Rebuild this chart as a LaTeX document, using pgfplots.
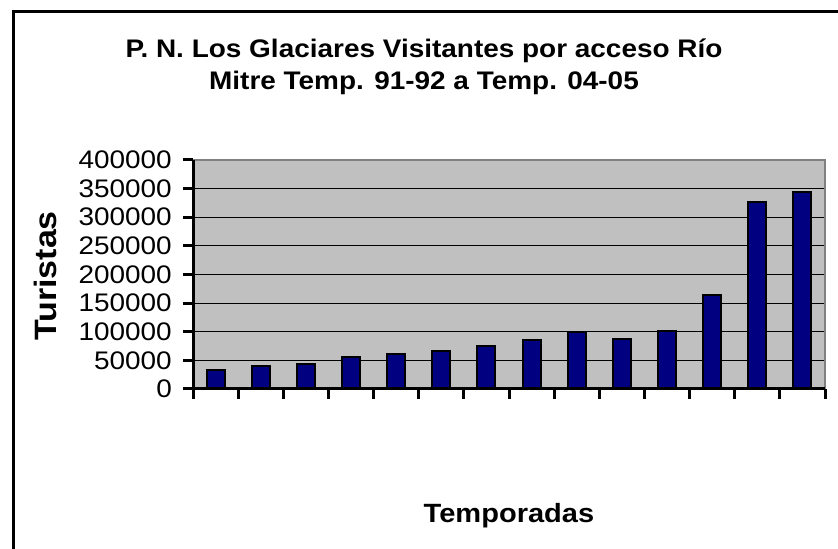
\documentclass[border=0pt]{standalone}
\usepackage{fontspec}
\setmainfont{Liberation Sans}[FakeStretch=1.1]
\usepackage{pgfplots}
\pgfplotsset{compat=1.18}
\definecolor{plotgray}{RGB}{192,192,192}
\definecolor{navybar}{RGB}{0,0,128}
\begin{document}
\begin{tikzpicture}[x=1bp,y=1bp]
\begin{axis}[
  at={(193bp,160bp)}, anchor=south west,
  scale only axis, width=632bp, height=229bp,
  xmin=-0.5, xmax=13.5, ymin=0, ymax=400000,
  axis background/.style={fill=plotgray},
  axis line style={draw=gray, line width=1.2bp},
  xtick={-0.5,0.5,...,13.5}, xticklabels={},
  ytick={0,50000,...,400000},
  tick pos=left, tick align=outside,
  major tick length=0pt,
  ymajorgrids, grid style={black, line width=1bp},
  scaled y ticks=false,
  yticklabel style={/pgf/number format/fixed, /pgf/number format/1000 sep={}, font=\fontsize{25.5}{26}\selectfont, inner sep=0pt, xshift=-21bp},
  /pgf/number format/assume math mode=true,
  clip=false,
]
\addplot[ybar, bar width=18bp, fill=navybar, draw=black, line width=2bp]
  coordinates {(0,33700) (1,39400) (2,43600) (3,56300) (4,61000) (5,65600) (6,75200) (7,84800) (8,99400) (9,87700) (10,101700) (11,165000) (12,327300) (13,344200)};
\draw[black, line width=3bp] (rel axis cs:0,0) -- (rel axis cs:1,0);
\draw[black, line width=3bp] (rel axis cs:0,0) -- (rel axis cs:0,1);
\pgfplotsinvokeforeach{-0.5,0.5,1.5,2.5,3.5,4.5,5.5,6.5,7.5,8.5,9.5,10.5,11.5,12.5,13.5}{
  \draw[black, line width=3bp] (axis cs:#1,0) -- ++(0bp,-10bp);
}
\pgfplotsinvokeforeach{0,50000,100000,150000,200000,250000,300000,350000,400000}{
  \draw[black, line width=3bp] (axis cs:-0.5,#1) -- ++(-10bp,0bp);
}
\end{axis}
\node[font=\bfseries\fontsize{25.5}{31.6}\selectfont, align=center, anchor=base] at (424bp,459.7bp) {P. N. Los Glaciares Visitantes por acceso Río\\Mitre Temp. 91-92 a Temp. 04-05};
\node[font=\bfseries\fontsize{31}{32}\selectfont, rotate=90] at (45bp,273bp) {Turistas};
\node[font=\bfseries\fontsize{26.5}{27}\selectfont, anchor=base] at (509bp,27bp) {Temporadas};
\draw[black, line width=3bp] (13bp,537bp) rectangle (900bp,-50bp);
\pgfresetboundingbox
\useasboundingbox (0,0) rectangle (838bp,549bp);
\end{tikzpicture}
\end{document}
